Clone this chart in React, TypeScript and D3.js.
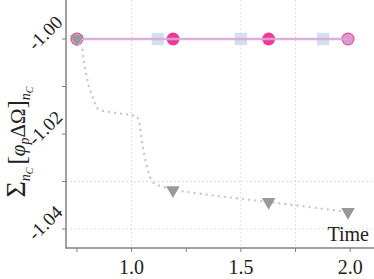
import React from 'react';
import * as d3 from 'd3';

// x ticks / labels
const xTicks = [0.75, 1.0, 1.25, 1.5, 1.75, 2.0];
const xLabels = [1.0, 1.5, 2.0];
const yTicks = [-1.0, -1.01, -1.02, -1.03, -1.04];
const yLabels = [-1.0, -1.02, -1.04];
const gridX = [1.0, 1.5, 1.75];
const gridY = [-1.03, -1.04];

// constant series
const lineTime = [0.75, 1.99];
const lineValue = [-1.0, -1.0];
const circleTime = [0.75, 1.19, 1.627, 1.99];
const squareTime = [1.12, 1.5, 1.876];

// dotted series
const dotTime = [0.75, 0.776, 0.782, 0.791, 0.803, 0.822, 0.84, 0.864, 0.918, 0.979, 1.024, 1.035, 1.043, 1.05, 1.061, 1.075, 1.084, 1.097, 1.128, 1.189, 1.4, 1.627, 1.99];
const dotValue = [-1.0, -1.0023, -1.0048, -1.0072, -1.0097, -1.0122, -1.0145, -1.0151, -1.0155, -1.0159, -1.0162, -1.0174, -1.02, -1.0225, -1.0251, -1.0276, -1.029, -1.0302, -1.0309, -1.0318, -1.0331, -1.0343, -1.0364];
const triTime = [0.75, 1.189, 1.627, 1.99];
const triValue = [-1.0, -1.0318, -1.0343, -1.0364];

const W = 374;
const H = 279;
const left = 66;
const bottom = 248;
const serif = { fontFamily: 'Liberation Serif' };
const spine = '#808080';

export default function App() {
  const x = d3.scaleLinear().domain([0.7, 2.109]).range([left, W]);
  const y = d3.scaleLinear().domain([-1.044, -0.99179]).range([bottom, 0]);

  const line = d3.line<number>().x((_, i) => x(lineTime[i])).y((_, i) => y(lineValue[i]));
  const dotted = d3.line<number>().x((_, i) => x(dotTime[i])).y((_, i) => y(dotValue[i]));
  const tri = d3.symbol(d3.symbolTriangle, 80)();
  const sq = d3.symbol(d3.symbolSquare, 150)();

  return (
    <svg width={W} height={H} style={{ position: 'absolute', left: 0, top: 0, fontFamily: 'Liberation Serif' }}>
      <rect width={W} height={H} fill="#fff" />

      {/* grid */}
      {gridX.map(v => (
        <line key={'gx' + v} x1={x(v)} x2={x(v)} y1={0} y2={bottom} stroke="#d6d6d6" strokeWidth={0.8} strokeDasharray="2,2" />
      ))}
      {gridY.map(v => (
        <line key={'gy' + v} x1={left} x2={W} y1={y(v)} y2={y(v)} stroke="#d6d6d6" strokeWidth={0.8} strokeDasharray="2,2" />
      ))}

      {/* markers under the line */}
      {squareTime.map(t => (
        <path key={'s' + t} d={sq!} transform={`translate(${x(t)},${y(-1.0)})`} fill="#d3dff0" />
      ))}
      {circleTime.map(t => (
        <circle key={'c' + t} cx={x(t)} cy={y(-1.0)} r={6.5} fill="#ee3a96" />
      ))}
      <path d={line(lineTime)!} fill="none" stroke="#d8a6d8" strokeWidth={2.6} opacity={0.9} />
      {[lineTime[0], lineTime[lineTime.length - 1]].map(t => (
        <circle key={'p' + t} cx={x(t)} cy={y(-1.0)} r={5.5} fill="#d8a6d8" opacity={0.9} />
      ))}

      {/* dotted series */}
      <path d={dotted(dotTime)!} fill="none" stroke="#c8c8c8" strokeWidth={2.4} strokeLinecap="round" strokeDasharray="0.1,6" />
      {triTime.map((t, i) => (
        <path key={'t' + t} d={tri!} transform={`translate(${x(t)},${y(triValue[i])}) rotate(180)`} fill="#999999" />
      ))}

      {/* axes */}
      <line x1={left} x2={left} y1={0} y2={bottom + 0.75} stroke={spine} strokeWidth={1.5} />
      <line x1={left} x2={W} y1={bottom} y2={bottom} stroke={spine} strokeWidth={1.5} />
      {xTicks.map(v => (
        <line key={'xt' + v} x1={x(v)} x2={x(v)} y1={bottom} y2={bottom + 4} stroke={spine} strokeWidth={1} />
      ))}
      {yTicks.map(v => (
        <line key={'yt' + v} x1={left - 4} x2={left} y1={y(v)} y2={y(v)} stroke={spine} strokeWidth={1} />
      ))}
      {xLabels.map(v => (
        <text key={'xl' + v} x={x(v)} y={274} textAnchor="middle" style={serif} fontSize={20} fill="#222">
          {v.toFixed(1)}
        </text>
      ))}
      {yLabels.map(v => (
        <text
          key={'yl' + v}
          transform={`translate(45,${y(v) - 6}) rotate(-45)`}
          textAnchor="middle"
          dominantBaseline="central"
          style={serif}
          fontSize={19}
          fill="#222"
        >
          {v.toFixed(2)}
        </text>
      ))}

      <text x={369} y={241} textAnchor="end" style={serif} fontSize={20} fill="#222">Time</text>

      <text transform="translate(25,142) rotate(-90)" textAnchor="middle" style={serif} fontSize={21} fill="#222">
        <tspan fontSize={28}>Σ</tspan>
        <tspan fontStyle="italic" fontSize={14} dy={5}>n</tspan>
        <tspan fontStyle="italic" fontSize={10} dy={3}>C</tspan>
        <tspan fontSize={25} dy={-8} dx={3}>[</tspan>
        <tspan fontStyle="italic">φ</tspan>
        <tspan fontStyle="italic" fontSize={14} dy={4}>p</tspan>
        <tspan dy={-4}>ΔΩ</tspan>
        <tspan fontSize={25}>]</tspan>
        <tspan fontStyle="italic" fontSize={14} dy={5}>n</tspan>
        <tspan fontStyle="italic" fontSize={10} dy={3}>C</tspan>
      </text>
    </svg>
  );
}
